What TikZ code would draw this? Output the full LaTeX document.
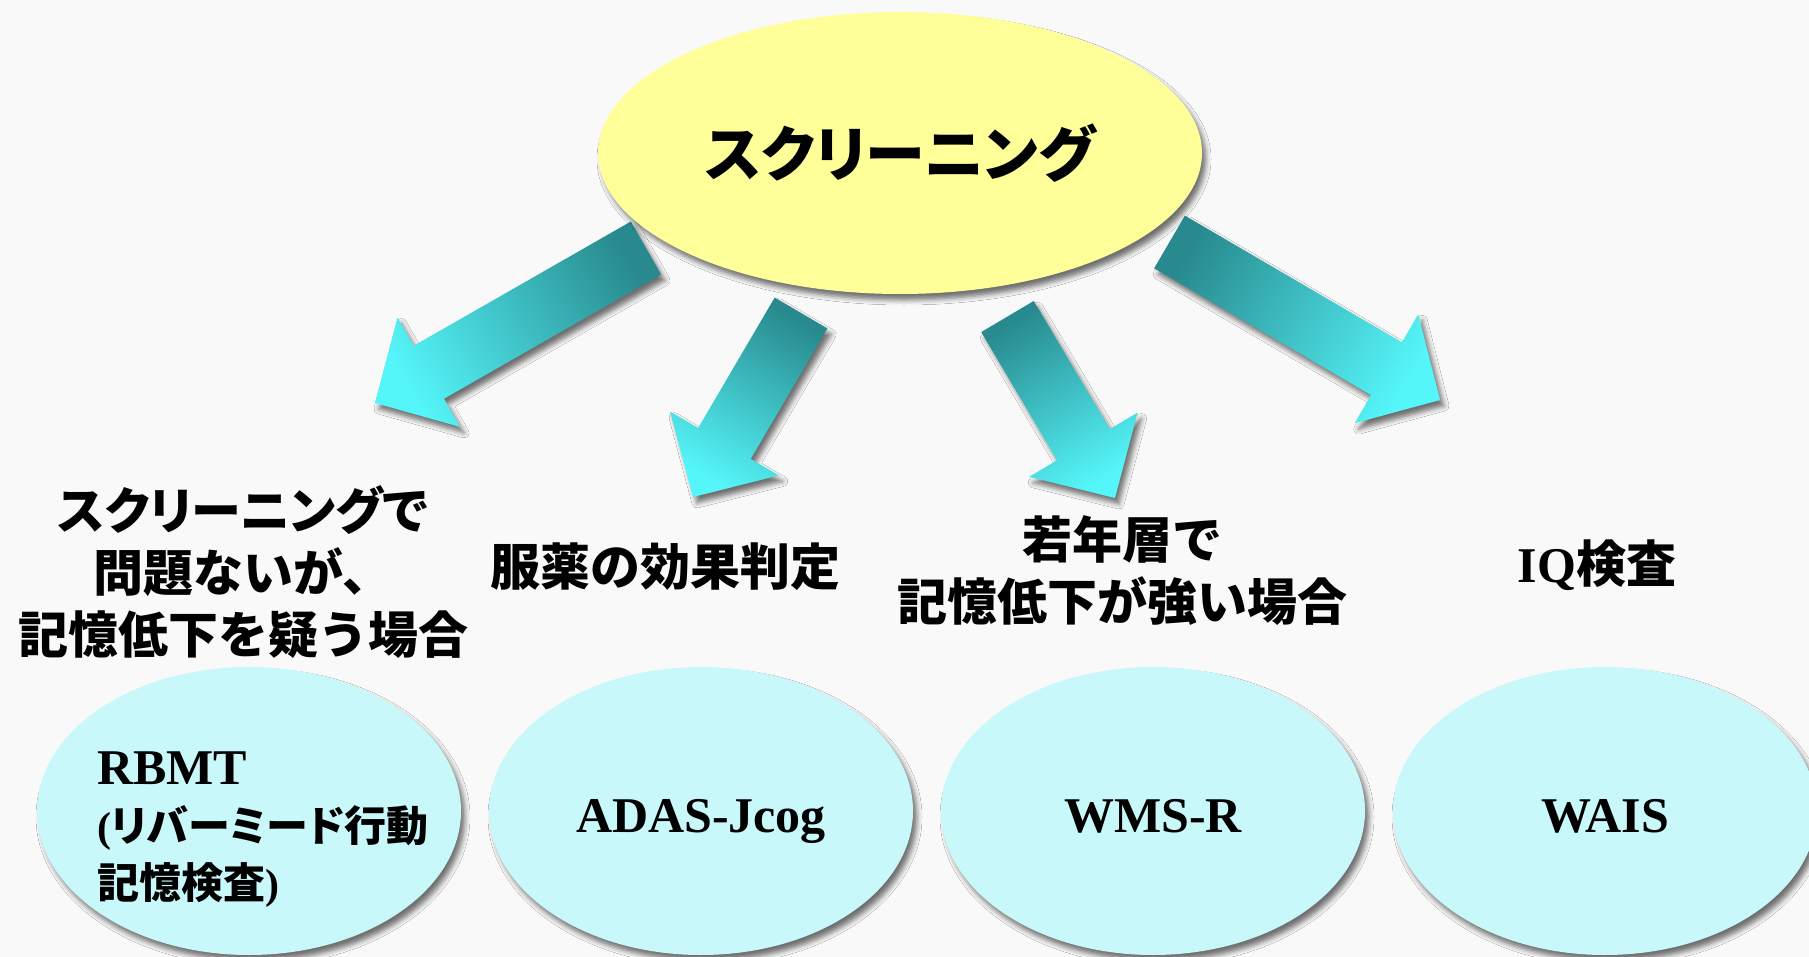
\documentclass[tikz,border=0pt]{standalone}
\usepackage{fontspec}
\setmainfont{Liberation Serif}
\newfontfamily\jp{Noto Sans CJK JP}
\newfontfamily\jpp[RawFeature=+palt]{Noto Sans CJK JP}
\usetikzlibrary{shapes.geometric,calc,shadows.blur}
\definecolor{bgc}{RGB}{249,249,249}
\definecolor{topfill}{RGB}{255,255,153}
\definecolor{botfill}{RGB}{200,248,250}
\definecolor{arrdark}{RGB}{40,138,142}
\definecolor{arrlight}{RGB}{85,246,250}
\newcommand\myarrow[3]{%
  \coordinate (#1h) at ($(#2)!62pt!(#1)$);
  \path[bigarrow, shading angle=#3]
    ($(#1)!30.5pt!90:(#2)$) -- ($(#1h)!30.5pt!90:(#2)$) -- ($(#1h)!63pt!90:(#2)$) -- (#2)
    -- ($(#1h)!63pt!-90:(#2)$) -- ($(#1h)!30.5pt!-90:(#2)$) -- ($(#1)!30.5pt!-90:(#2)$) -- cycle;}
\begin{document}
\begin{tikzpicture}[x=1pt,y=-1pt,
  myshadow/.style={blur shadow={shadow xshift=4pt,shadow yshift=-6pt,shadow blur radius=5pt,shadow opacity=55}},
  topell/.style={ellipse, fill=topfill, minimum width=604pt, minimum height=282pt, inner sep=0pt, myshadow,
     font=\jpp\bfseries\fontsize{60}{70}\selectfont},
  botell/.style={ellipse, fill=botfill, minimum width=424pt, minimum height=288pt, inner sep=0pt, myshadow,
     font=\rmfamily\bfseries\fontsize{50}{57}\selectfont, text height=42pt, text depth=0pt},
  lbl/.style={font=\jp\bfseries\fontsize{50}{62}\selectfont, align=center, inner sep=0pt},
  bigarrow/.style={myshadow, bottom color=arrdark, top color=arrlight}
]
\useasboundingbox (0,0) rectangle (1809,957);
\clip (0,0) rectangle (1809,957);
\fill[bgc] (0,0) rectangle (1809,957);

\coordinate (t1) at (646,248);    \coordinate (p1) at (375,403);
\coordinate (t2) at (801,313);    \coordinate (p2) at (693,497);
\coordinate (t3) at (1007.5,316.5); \coordinate (p3) at (1115,498);
\coordinate (t4) at (1169.5,242); \coordinate (p4) at (1440,400);

\myarrow{t1}{p1}{119.8}
\myarrow{t2}{p2}{149.6}
\myarrow{t3}{p3}{210.6}
\myarrow{t4}{p4}{239.7}

\node[topell] (top) at (900,153) {スクリーニング};

\node[lbl] (l1) at (243,572) {{\jpp スクリーニングで}\\問題ないが、\\記憶低下を疑う場合};
\node[lbl] (l2) at (665,567) {服薬の効果判定};
\node[lbl] (l3) at (1122,570) {若年層で\\記憶低下が強い場合};
\node[lbl] (l4) at (1597,565) {{\rmfamily IQ}検査};

\node[botell] (b1) at (249,811) {};
\node[botell] (b2) at (701,811) {ADAS-Jcog};
\node[botell] (b3) at (1153,811) {WMS-R};
\node[botell] (b4) at (1605,811) {WAIS};
\node[anchor=north west, align=left, inner sep=0pt, font=\rmfamily\bfseries\fontsize{42}{57}\selectfont] (b1t) at (97,752)
  {{\fontsize{50}{57}\selectfont RBMT}\\({\jpp リバーミード行動}\\{\jp 記憶検査})};
\end{tikzpicture}
\end{document}
